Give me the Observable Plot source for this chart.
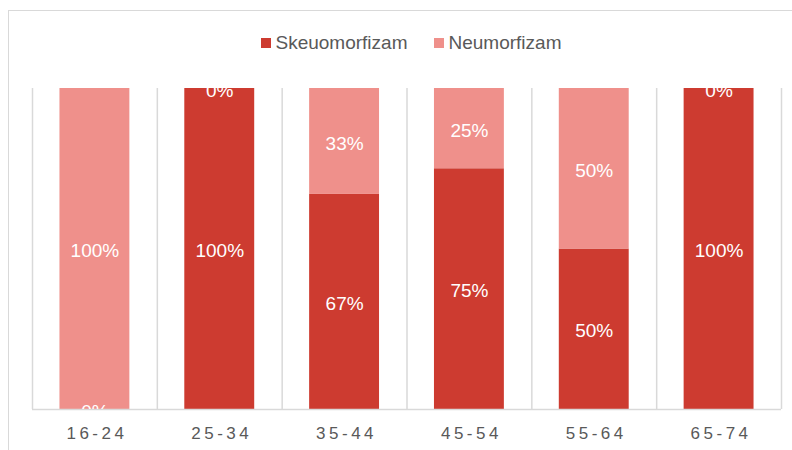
<!DOCTYPE html>
<html>
<head>
<meta charset="utf-8">
<script src="https://cdn.jsdelivr.net/npm/d3@7"></script>
<script src="https://cdn.jsdelivr.net/npm/@observablehq/plot@0.6"></script>
<style>
  html, body { margin: 0; padding: 0; background: #fff; }
  body { width: 792px; height: 450px; overflow: hidden; position: relative; font-family: "Liberation Sans", Arial, sans-serif; }
  #border { position: absolute; left: 8px; top: 10px; width: 1000px; height: 1000px; border: 1.5px solid #d9d9d9; pointer-events: none; }
  #legend { height: 70px; box-sizing: border-box; padding-top: 16px; padding-left: 30px; display: flex; justify-content: center; align-items: center; gap: 26px; font-size: 19px; color: #595959; }
  #legend .item { display: flex; align-items: center; gap: 5px; }
  #legend .sw { width: 10px; height: 10px; display: inline-block; }
  #chart { position: relative; }
  g[aria-label="x-axis tick label"] text { letter-spacing: 3.5px; }
</style>
</head>
<body>
<div id="border"></div>
<div id="legend"></div>
<div id="chart"></div>
<script>
const categories = ["16-24", "25-34", "35-44", "45-54", "55-64", "65-74"];
const seriesNames = ["Skeuomorfizam", "Neumorfizam"];
const skeuomorfizam = [0, 100, 67, 75, 50, 100];
const neumorfizam = [100, 0, 33, 25, 50, 0];
const colors = ["#CD3B30", "#EF908B"];

// Build stacked table
const seriesValues = [skeuomorfizam, neumorfizam];
const rows = [];
categories.forEach((c, i) => {
  let base = 0;
  seriesValues.forEach((vals, s) => {
    const v = vals[i];
    rows.push({ idx: i, category: c, series: seriesNames[s], value: v, y1: base, y2: base + v });
    base += v;
  });
});

// Legend
const legend = document.getElementById("legend");
seriesNames.forEach((name, s) => {
  const item = document.createElement("span");
  item.className = "item";
  const sw = document.createElement("span");
  sw.className = "sw";
  sw.style.background = colors[s];
  const label = document.createElement("span");
  label.textContent = name;
  item.appendChild(sw);
  item.appendChild(label);
  legend.appendChild(item);
});

const inset = 0.22;
const boundaries = d3.range(categories.length + 1);

const plot = Plot.plot({
  width: 792,
  height: 380,
  marginTop: 18,
  marginBottom: 41,
  marginLeft: 32,
  marginRight: 11,
  style: { fontFamily: "'Liberation Sans', Arial, sans-serif", background: "transparent", overflow: "visible" },
  x: { type: "linear", domain: [0, categories.length] },
  y: { domain: [0, 100] },
  color: { domain: seriesNames, range: colors },
  marks: [
    Plot.ruleX(boundaries, { x: d => d, stroke: "#d9d9d9", strokeWidth: 1.5 }),
    Plot.rect(rows, {
      x1: d => d.idx + inset,
      x2: d => d.idx + 1 - inset,
      y1: "y1",
      y2: "y2",
      fill: "series"
    }),
    Plot.ruleY([0], { stroke: "#d9d9d9", strokeWidth: 1.5 }),
    Plot.text(rows, {
      x: d => d.idx + 0.5,
      y: d => (d.y1 + d.y2) / 2,
      text: d => d.value + "%",
      fill: "white",
      fontSize: 19,
      dy: 2,
      clip: true
    }),
    Plot.axisX({
      ticks: categories.map((c, i) => i + 0.5),
      tickFormat: v => categories[Math.round(v - 0.5)],
      tickSize: 0,
      tickPadding: 17,
      fontSize: 17,
      color: "#595959",
      dx: 2,
      label: null
    }),
    Plot.axisY({ ticks: [], label: null, tickSize: 0 })
  ]
});
document.getElementById("chart").appendChild(plot);
</script>
</body>
</html>
